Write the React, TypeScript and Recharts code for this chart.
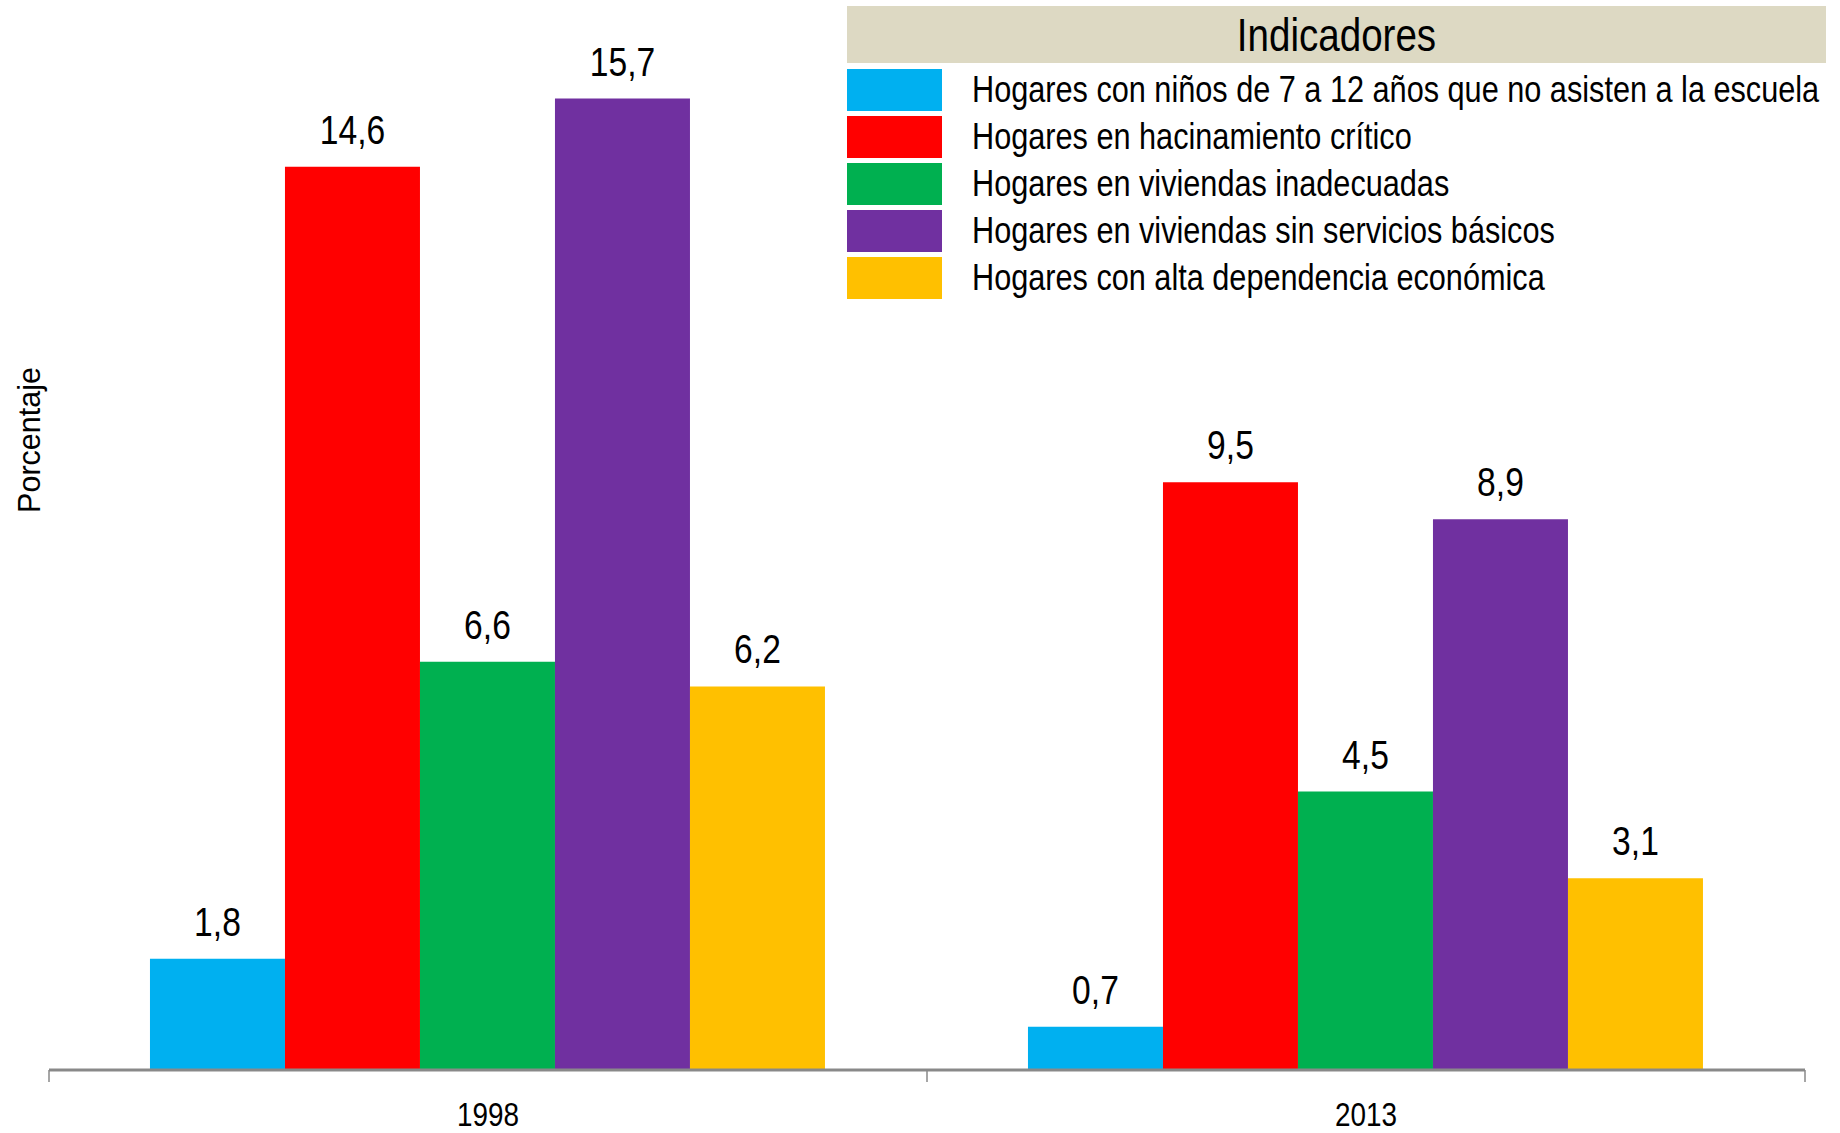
import { Bar, BarChart, LabelList, XAxis, YAxis } from 'recharts'

const categories = ['1998', '2013']
const ninosNoEscuela = [1.8, 0.7]
const hacinamiento = [14.6, 9.5]
const viviendasInadecuadas = [6.6, 4.5]
const sinServicios = [15.7, 8.9]
const altaDependencia = [6.2, 3.1]

const seriesNames = [
  'Hogares con niños de 7 a 12 años que no asisten a la escuela',
  'Hogares en hacinamiento crítico',
  'Hogares en viviendas inadecuadas',
  'Hogares en viviendas sin servicios básicos',
  'Hogares con alta dependencia económica',
]
const seriesColors = ['#00B0F0', '#FF0000', '#00B050', '#7030A0', '#FFC000']
const seriesKeys = ['s0', 's1', 's2', 's3', 's4']
const seriesValues = [ninosNoEscuela, hacinamiento, viviendasInadecuadas, sinServicios, altaDependencia]

const data = categories.map((year, i) => {
  const row: Record<string, string | number> = { year }
  seriesKeys.forEach((k, j) => { row[k] = seriesValues[j][i] })
  return row
})

const W = 1840
const H = 1133
const M = { top: 80, right: 35, bottom: 0, left: 49 }
const FONT = "'Liberation Sans', Arial, sans-serif"
// the original uses Arial Narrow; squeeze Arial-metric text horizontally
const SQ = 0.82
const halfBand = (W - M.left - M.right) / categories.length / 2

const fmt = (v: number) => String(v).replace('.', ',')

function YearTick(props: any) {
  const { x, y, payload, index } = props
  const top = y - 8
  return (
    <g>
      <line x1={x - halfBand} x2={x - halfBand} y1={top} y2={top + 12} stroke="#898989" strokeWidth={1.5} />
      {index === categories.length - 1 && (
        <line x1={x + halfBand} x2={x + halfBand} y1={top} y2={top + 12} stroke="#898989" strokeWidth={1.5} />
      )}
      <text
        transform={`translate(${x},${top + 56}) scale(${SQ},1)`}
        textAnchor="middle"
        fontSize={34}
        fontFamily={FONT}
        fill="#000"
      >
        {payload.value}
      </text>
    </g>
  )
}

function ValueLabel(props: any) {
  const { x, y, width, value } = props
  return (
    <text
      transform={`translate(${x + width / 2},${y - 23}) scale(${SQ},1)`}
      textAnchor="middle"
      fontSize={41}
      fontFamily={FONT}
      fill="#000"
    >
      {fmt(value)}
    </text>
  )
}

function LegendBox() {
  return (
    <div style={{ position: 'absolute', left: 847, top: 6, width: 979, fontFamily: FONT, color: '#000' }}>
      <div style={{ background: '#DDD9C3', height: 57, lineHeight: '57px', textAlign: 'center', fontSize: 47 }}>
        <span style={{ display: 'inline-block', transform: `scale(${SQ},1)` }}>Indicadores</span>
      </div>
      <div style={{ marginTop: 3 }}>
        {seriesNames.map((name, j) => (
          <div key={name} style={{ display: 'flex', alignItems: 'center', height: 47 }}>
            <div style={{ width: 95, height: 42, background: seriesColors[j], flex: 'none' }} />
            <span
              style={{
                marginLeft: 30,
                fontSize: 37.4,
                whiteSpace: 'nowrap',
                display: 'inline-block',
                transform: `scale(${SQ},1)`,
                transformOrigin: 'left center',
              }}
            >
              {name}
            </span>
          </div>
        ))}
      </div>
    </div>
  )
}

export default function App() {
  return (
    <div style={{ position: 'relative', width: W, height: H }}>
      <style>{'body{margin:0;overflow:hidden;}'}</style>
      <BarChart width={W} height={H} data={data} margin={M} barCategoryGap="11.5%" barGap={0}>
        <XAxis
          dataKey="year"
          height={63}
          axisLine={{ stroke: '#898989', strokeWidth: 3 }}
          tickLine={false}
          tick={<YearTick />}
          interval={0}
        />
        <YAxis hide domain={[0, 16]} />
        {seriesKeys.map((k, j) => (
          <Bar key={k} dataKey={k} name={seriesNames[j]} fill={seriesColors[j]} isAnimationActive={false}>
            <LabelList dataKey={k} content={<ValueLabel />} />
          </Bar>
        ))}
      </BarChart>
      <LegendBox />
      <div
        style={{
          position: 'absolute',
          left: 29,
          top: 440,
          transform: 'translate(-50%, -50%) rotate(-90deg)',
          fontFamily: FONT,
          fontSize: 30.5,
          whiteSpace: 'nowrap',
          color: '#000',
        }}
      >
        Porcentaje
      </div>
    </div>
  )
}
